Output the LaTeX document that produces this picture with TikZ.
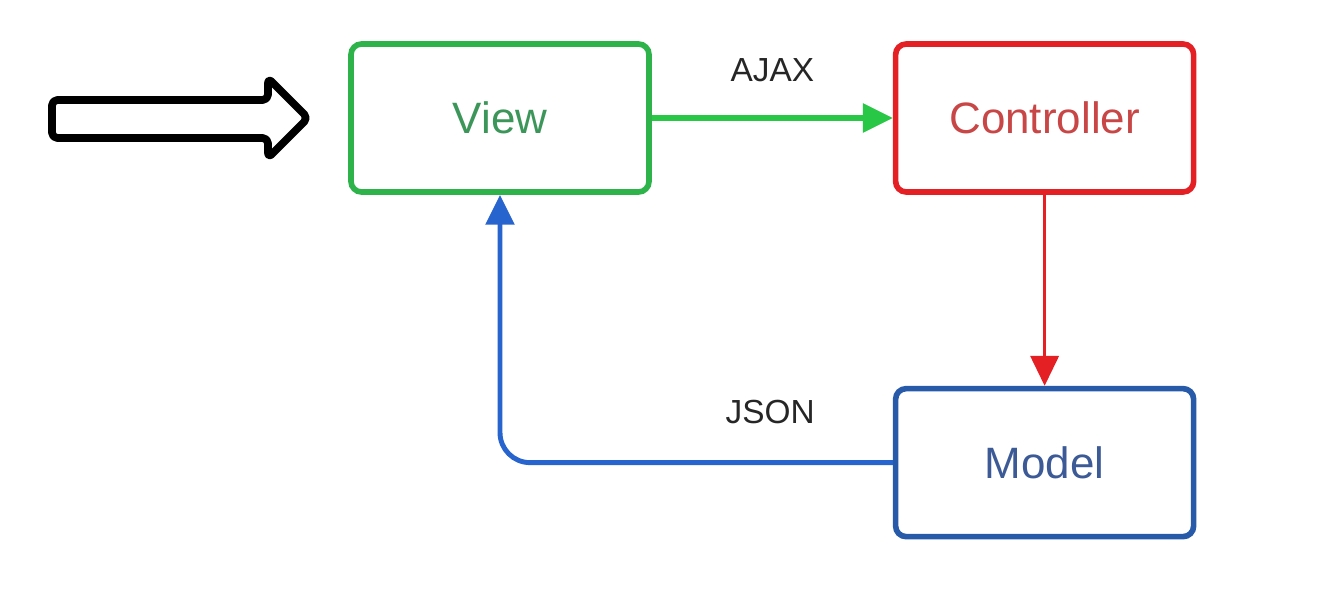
\documentclass[tikz,border=0pt]{standalone}
\usepackage{fontspec}
\setmainfont{Liberation Sans}
\usetikzlibrary{arrows.meta,positioning}

\definecolor{viewgreen}{RGB}{46,178,74}
\definecolor{viewtext}{RGB}{60,150,90}
\definecolor{ajaxgreen}{RGB}{40,200,70}
\definecolor{ctrlred}{RGB}{228,32,36}
\definecolor{ctrltext}{RGB}{200,70,70}
\definecolor{modelblue}{RGB}{40,90,170}
\definecolor{modeltext}{RGB}{60,90,150}
\definecolor{jsonblue}{RGB}{40,100,205}

\begin{document}
\begin{tikzpicture}[>={Triangle[length=17pt,width=16pt]},
    box/.style={draw, line width=3.2pt, rounded corners=6pt, minimum width=5.96cm, minimum height=2.96cm, font=\fontsize{25}{30}\selectfont},
    tag/.style={font=\fontsize{19}{23}\selectfont, text=black!85}]
    \useasboundingbox (0,0) rectangle (26.64,11.82);

    % Draw the three boxes of the pattern
    \node [box, draw=viewgreen, text=viewtext] (view) at (10,9.46) {View};
    \node [box, draw=ctrlred, text=ctrltext, right=4.82cm of view] (controller) {Controller};
    \node [box, draw=modelblue, text=modeltext, below=3.82cm of controller] (model) {Model};

    % Hollow arrow coming in from the left
    \draw [line width=4.4pt, line join=round, rounded corners=3pt] (1.04,9.82) -- (5.36,9.82) -- (5.36,10.26) -- (6.16,9.46) -- (5.36,8.66) -- (5.36,9.06) -- (1.04,9.06) -- cycle;

    % Request from the view to the controller
    \draw [->, ajaxgreen, line width=3pt] (view) -- (controller) node[midway, above=0.55cm, tag] {AJAX};

    % Controller down to the model
    \draw [->, ctrlred, line width=1.8pt] (controller) -- (model);

    % Answer from the model back up to the view
    \draw [->, jsonblue, line width=2.8pt, rounded corners=0.6cm] (model.west) -| (view.south) node[pos=0.156, above=0.6cm, tag] {JSON};
\end{tikzpicture}
\end{document}
